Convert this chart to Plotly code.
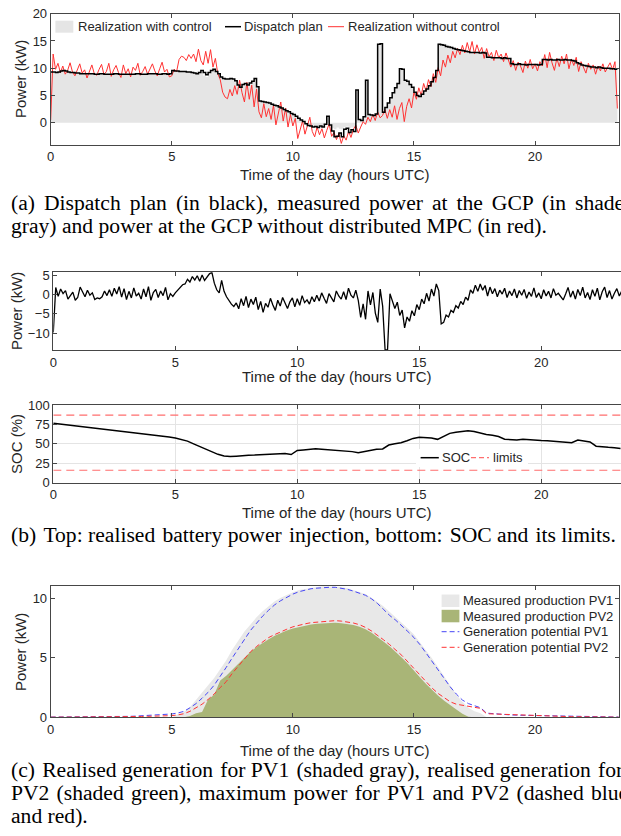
import plotly.graph_objects as go

W, H = 621, 836

# ---- (a) power at the GCP, 0.1 h samples ----
t_a = [i / 10 for i in range(235)]

without_ctrl = [
    0.5, 12.6, 9.8, 10.9, 9.2, 10.4, 8.9, 9.6, 11.0, 9.3,
    8.6, 9.9, 10.8, 9.1, 9.7, 8.2, 9.5, 10.6, 9.0, 8.7,
    9.8, 10.7, 8.8, 9.4, 10.9, 8.5, 9.7, 10.5, 9.2, 8.3,
    10.6, 9.0, 9.9, 8.4, 10.2, 9.6, 10.9, 8.7, 9.4, 10.3,
    8.9, 9.8, 10.8, 9.5, 8.6, 9.9, 11.1, 9.3, 9.8, 8.4,
    8.6, 9.8, 9.4, 11.6, 12.2, 12.0, 11.4, 12.5, 11.8, 12.6,
    11.2, 13.5, 11.4, 10.6, 13.1, 10.9, 13.4, 10.2, 11.8, 9.0,
    7.9, 5.6, 4.7, 4.4, 6.1, 4.9, 6.8, 5.2, 7.8, 5.5,
    3.8, 7.4, 4.3, 6.9, 2.9, 6.2, 2.0, 0.9, 3.5, 1.1,
    2.6, 0.6, 3.2, -0.4, 1.9, 3.8, 0.3, 2.7, -0.8, 1.5,
    -0.6, 0.8, -2.9, -1.2, 0.3, -2.1, -0.4, 1.0, -1.6, -2.6,
    -0.8, -2.2, -1.1, -2.8, -1.4, -0.2, -2.5, -1.8, -3.1, -2.0,
    -3.8, -2.4, -3.2, -1.6, -2.7, -1.2, -0.5, -1.9, -0.8, 0.2,
    -0.3, 1.0, 0.2, 1.5, 0.4, 2.0, 0.9, 1.3, 2.4, 0.8,
    2.4, 1.0, 3.1, 0.6, 2.6, 3.7, 0.2, 3.0, 4.4, 2.7,
    5.6, 4.3, 6.4, 5.0, 7.2, 5.8, 7.9, 6.6, 9.0, 7.4,
    10.1, 8.6, 11.5, 10.2, 12.4, 11.0, 13.1, 11.9, 13.6, 12.5,
    14.2, 12.8, 14.7, 13.0, 14.9, 12.6, 14.3, 12.9, 13.8, 11.8,
    13.6, 12.1, 12.9, 11.4, 13.3, 11.9, 12.6, 11.2, 12.8, 11.5,
    10.2, 11.4, 9.6, 11.1, 10.4, 9.2, 11.3, 10.0, 11.6, 9.9,
    10.8, 9.5, 11.2, 10.4, 12.5, 10.1, 12.9, 11.0, 9.6, 11.8,
    10.3, 12.2, 10.8, 12.6, 9.9, 11.7, 10.5, 12.0, 9.4, 11.2,
    10.0, 9.1, 10.9, 9.8, 10.6, 8.9, 10.4, 9.5, 10.8, 9.3,
    10.2, 11.0, 9.7, 11.2, 2.6,
]

dispatch = [
    9.3, 9.3, 9.2, 9.3, 9.5, 9.6, 9.5, 9.3, 9.2, 9.2,
    9.1, 9.1, 9.0, 9.0, 9.0, 9.0, 9.0, 9.0, 8.9, 8.9,
    9.0, 9.0, 8.9, 8.9, 8.9, 8.9, 9.0, 9.0, 8.9, 8.9,
    8.9, 8.9, 8.9, 8.9, 8.9, 9.0, 9.0, 8.9, 8.9, 8.9,
    9.0, 9.0, 9.0, 9.0, 8.9, 8.9, 9.0, 9.0, 8.9, 9.0,
    9.6, 9.5, 9.5, 9.4, 9.4, 9.4, 9.3, 9.3, 9.2, 9.1,
    9.0, 9.2, 9.6, 9.2, 8.8, 9.2, 9.6, 9.8, 9.4, 9.0,
    8.4, 8.1, 8.0, 8.0, 8.1, 8.0, 7.7, 6.9, 6.5, 7.0,
    7.2, 6.9, 7.3, 7.6, 8.1, 6.6, 4.0, 3.9, 3.8, 3.7,
    3.6, 3.4, 3.2, 3.1, 2.9, 2.7, 2.4, 2.2, 2.0, 1.7,
    1.5, 1.2, 0.8, 0.5, 0.2, -0.2, -0.5, -0.6, -0.8, -0.7,
    -0.9, -0.6, -0.8, -0.3, 1.2, -0.4, -1.5, -2.6, -2.5, -1.9,
    -2.6, -1.2, -1.0, -1.8, -1.3, -1.6, 6.0, 0.6, 0.4, 1.1,
    7.8, 1.5, 1.4, 1.3, 1.6, 14.4, 14.5, 1.9, 2.8, 3.6,
    4.6, 5.5, 6.4, 7.2, 9.9, 9.8, 7.8, 7.6, 7.0, 6.5,
    5.6, 5.0, 4.8, 5.2, 5.8, 6.2, 6.8, 7.5, 8.3, 9.6,
    14.4, 14.3, 14.2, 14.0, 13.9, 13.8, 13.6, 13.5, 13.4, 13.3,
    13.2, 13.1, 13.0, 12.9, 12.9, 12.9, 12.9, 12.8, 12.9, 12.8,
    12.0, 12.0, 11.9, 11.9, 11.9, 11.9, 11.8, 11.9, 11.8, 11.8,
    10.8, 10.7, 10.7, 10.8, 10.7, 10.7, 10.6, 10.7, 10.7, 10.7,
    10.7, 10.6, 10.7, 11.6, 11.6, 11.5, 11.6, 11.5, 11.5, 11.6,
    11.5, 11.5, 11.6, 11.5, 11.5, 11.4, 11.3, 11.0, 10.8, 10.6,
    10.5, 10.4, 10.3, 10.2, 10.2, 10.1, 10.2, 10.1, 10.0, 10.0,
    10.0, 9.9, 9.9, 9.8, 9.8,
]

with_ctrl = [
    9.2, 9.3, 9.2, 9.3, 9.5, 9.5, 9.5, 9.3, 9.2, 9.2,
    9.1, 9.1, 9.0, 9.0, 9.0, 9.0, 9.0, 9.0, 8.9, 8.9,
    9.0, 9.0, 8.9, 8.9, 8.9, 8.9, 9.0, 9.0, 8.9, 8.9,
    8.9, 8.9, 8.9, 8.9, 8.9, 9.0, 9.0, 8.9, 8.9, 8.9,
    9.0, 9.0, 9.0, 9.0, 8.9, 8.9, 9.0, 9.0, 8.9, 9.0,
    9.6, 9.5, 9.5, 9.4, 9.4, 9.4, 9.3, 9.3, 9.2, 9.1,
    9.0, 9.1, 9.3, 8.6, 8.4, 8.9, 9.6, 9.9, 9.5, 9.0,
    8.4, 8.1, 8.0, 8.0, 8.1, 8.0, 7.7, 6.9, 6.5, 7.0,
    7.2, 6.9, 7.3, 7.6, 8.1, 6.6, 4.0, 3.9, 3.8, 3.7,
    3.6, 3.4, 3.2, 3.1, 2.9, 2.7, 2.4, 2.2, 2.0, 1.7,
    1.5, 1.2, 0.8, 0.5, 0.2, -0.2, -0.5, -0.6, -0.8, -0.7,
    -0.9, -0.6, -0.8, -0.3, 1.0, -0.4, -1.0, -1.2, -0.9, -1.1,
    -1.2, -0.8, -0.7, -1.0, -0.9, -1.0, 5.8, 0.6, 0.4, 1.1,
    7.7, 1.5, 1.4, 1.3, 1.6, 14.4, 14.5, 1.9, 2.8, 3.6,
    4.6, 5.5, 6.4, 7.2, 9.9, 9.8, 7.8, 7.6, 7.0, 6.5,
    5.6, 5.0, 4.8, 5.2, 5.8, 6.2, 6.8, 7.5, 8.3, 9.6,
    14.6, 14.6, 14.5, 14.3, 14.2, 14.0, 13.8, 13.6, 13.5, 13.4,
    13.2, 13.1, 13.0, 12.9, 12.9, 12.9, 12.9, 12.8, 12.9, 12.8,
    12.0, 12.0, 11.9, 11.9, 11.9, 11.9, 11.8, 11.9, 11.8, 11.8,
    10.8, 10.7, 10.7, 10.8, 10.7, 10.7, 10.6, 10.7, 10.7, 10.7,
    10.7, 10.6, 10.7, 11.6, 11.6, 11.5, 11.6, 11.5, 11.5, 11.6,
    11.5, 11.5, 11.6, 11.5, 11.5, 11.4, 11.3, 11.0, 10.8, 10.6,
    10.5, 10.4, 10.3, 10.3, 10.2, 10.2, 10.2, 10.1, 10.1, 10.1,
    10.1, 10.1, 10.0, 10.0, 10.0,
]

# ---- (b) battery power (0.1 h) and SOC (0.25 h) ----
battery = [
    -9.8, 1.8, -0.5, 1.4, 0.2, 1.0, -1.2, -0.4, 0.6, -1.5,
    -0.8, 1.9, 0.5, -0.6, 1.1, -0.2, 0.4, -1.3, -0.9, -1.1,
    -0.6, 0.9, -0.3, 1.2, -0.5, 1.6, 0.1, 2.0, -0.7, 1.5,
    -1.3, 0.8, -0.9, 1.7, -0.4, 0.3, -1.2, 1.4, -0.6, 2.0,
    -1.5, 0.5, 1.3, -0.8, 0.9, -0.3, 1.8, -1.4, 0.2, -0.5,
    0.4, 1.1, 1.9, 2.5, 2.7, 3.9, 3.2, 4.6, 3.7, 4.8,
    3.4, 5.0, 3.6, 4.4, 5.3, 5.7, 2.9, 1.2, 0.4, 3.6,
    0.8, -0.6, -1.6, -2.5, -3.1, -2.2, -3.7, -1.1, -2.9, -0.5,
    -3.4, -1.2, -2.6, -0.7, -3.9, -1.8, -4.6, -2.3, -3.3, -1.0,
    -2.7, -4.1, -1.5, -3.0, -0.8, -2.4, -3.6, -1.9, -0.9, -3.2,
    -1.1, -2.8, -0.3, -2.1, -1.4, -2.5, -0.6, -1.9, -0.2, -1.7,
    0.4, -1.0, -2.3, 0.2, -0.8, -1.9, 0.9, -0.4, -1.2, 0.7,
    -1.3, 1.6, -0.2, -0.9, 1.1, -1.5, -5.9, -2.4, -6.4, 0.9,
    -2.7, 0.5, -4.8, -7.2, 1.4, -3.0, -14.3, -14.3, 0.2, -1.5,
    -3.6, -2.0, -5.4, -4.0, -8.6, -5.8, -6.9, -4.2, -5.5, -2.6,
    -3.9, -1.2, -2.4, 0.3, -1.7, 1.4, -0.4, 2.7, 1.0, -7.6,
    -7.2, -5.3, -5.8, -4.1, -4.6, -2.9, -3.5, -1.8, -2.6, -0.7,
    -1.5, 1.2, 0.3, 2.4, 0.8, 2.7, 1.1, 2.3, -0.4, 1.9,
    0.2, 1.5, -0.6, 1.1, 0.1, 1.6, -0.8, 0.9, -0.3, 1.4,
    -0.9, 1.0, -0.2, 1.3, -1.0, 0.6, -0.5, 1.7, -0.8, 0.4,
    -1.1, 1.2, -0.4, 0.8, -0.9, 1.5, -0.2, 0.3, -0.6, -1.4,
    0.1, 1.8, -0.7, 0.9, -1.2, 1.3, -0.3, 1.9, -0.9, 0.5,
    -1.3, 1.2, -0.5, 1.6, -1.4, 0.7, 1.9, -0.8, 1.0, -1.2,
    0.3, 1.5, -0.4, 0.9, 0.2,
]

t_soc = [i / 4 for i in range(94)]
soc = [
    76.4, 75.5, 74.5, 73.5, 72.5, 71.6, 70.8, 70.0,
    69.2, 68.5, 67.6, 66.8, 65.8, 64.8, 63.8, 63.0,
    62.2, 61.2, 60.0, 58.8, 57.5, 55.8, 53.5, 50.0,
    46.5, 43.0, 39.5, 36.5, 34.5, 33.8, 34.2, 35.0,
    35.3, 35.5, 35.8, 36.3, 36.8, 37.2, 37.6, 36.2,
    41.5, 42.2, 43.0, 43.6, 43.2, 42.5, 42.0, 41.6,
    41.0, 40.0, 38.5, 40.0, 41.0, 43.0, 43.5, 48.5,
    50.0, 51.5, 54.0, 57.0, 58.5, 58.2, 57.5, 55.8,
    60.0, 63.5, 65.0, 66.0, 67.0, 66.0, 63.5, 62.0,
    61.0, 59.5, 56.0, 55.2, 55.0, 55.8, 55.0, 54.6,
    54.3, 54.0, 53.6, 53.0, 52.5, 51.5, 55.0, 53.5,
    52.5, 47.0, 45.8, 45.5, 45.0, 44.0,
]
soc_limits = [87, 16]

# ---- (c) PV generation, 0.25 h samples ----
t_pv = [i / 4 for i in range(95)]
pv1_meas = [
    0, 0, 0, 0, 0, 0, 0, 0, 0, 0, 0, 0, 0, 0, 0, 0, 0, 0, 0, 0,
    0.0, 0.25, 0.45, 0.85, 1.5, 2.1, 2.7, 3.3, 4.0, 4.8, 5.7, 6.5,
    7.2, 7.8, 8.4, 8.9, 9.35, 9.75, 10.05, 10.3, 10.5, 10.7, 10.8, 10.9,
    10.95, 11.0, 11.0, 11.0, 10.95, 10.85, 10.7, 10.55, 10.35, 10.05, 9.7, 9.3,
    8.85, 8.4, 7.95, 7.45, 6.95, 6.3, 5.6, 4.95, 4.2, 3.4, 2.6, 1.9,
    1.3, 0.8, 0.5, 0.35, 0.0, 0, 0, 0, 0, 0, 0, 0, 0, 0, 0, 0,
    0, 0, 0, 0, 0, 0, 0, 0, 0, 0, 0,
]
pv2_meas = [
    0, 0, 0, 0, 0, 0, 0, 0, 0, 0, 0, 0, 0, 0, 0, 0, 0, 0, 0, 0,
    0, 0, 0, 0.1, 0.35, 0.45, 1.5, 1.9, 3.1, 3.5, 4.0, 4.5,
    5.0, 5.5, 5.9, 6.25, 6.55, 6.85, 7.1, 7.3, 7.45, 7.58, 7.7, 7.8,
    7.85, 7.9, 7.93, 7.95, 7.9, 7.85, 7.75, 7.6, 7.4, 7.1, 6.75, 6.35,
    5.95, 5.5, 5.0, 4.5, 3.9, 3.35, 2.8, 2.3, 1.8, 1.4, 1.0, 0.65,
    0.3, 0.05, 0, 0, 0, 0, 0, 0, 0, 0, 0, 0, 0, 0, 0, 0,
    0, 0, 0, 0, 0, 0, 0, 0, 0, 0, 0,
]
pv1_pot = [
    0.02, 0.02, 0.03, 0.02, 0.03, 0.03, 0.04, 0.03, 0.05, 0.04, 0.06, 0.07,
    0.08, 0.08, 0.10, 0.12, 0.14, 0.16, 0.20, 0.24, 0.28, 0.36, 0.5, 0.8,
    1.15, 1.6, 2.1, 2.7, 3.4, 4.2, 5.0, 5.8, 6.6, 7.3, 7.9, 8.5,
    9.0, 9.45, 9.8, 10.1, 10.35, 10.55, 10.7, 10.8, 10.85, 10.9, 10.92, 10.92,
    10.85, 10.75, 10.6, 10.45, 10.25, 9.95, 9.55, 9.05, 8.55, 8.15, 7.7, 7.2,
    6.7, 6.1, 5.4, 4.7, 3.95, 3.2, 2.55, 1.95, 1.45, 1.15, 0.95, 0.8,
    0.35, 0.3, 0.28, 0.22, 0.2, 0.18, 0.17, 0.15, 0.14, 0.12, 0.1, 0.09,
    0.08, 0.07, 0.06, 0.05, 0.05, 0.04, 0.04, 0.03, 0.03, 0.02, 0.02,
]
pv2_pot = [
    0.01, 0.01, 0.02, 0.01, 0.02, 0.02, 0.03, 0.02, 0.03, 0.03, 0.04, 0.04,
    0.05, 0.05, 0.06, 0.07, 0.08, 0.09, 0.1, 0.12, 0.14, 0.2, 0.3, 0.5,
    0.8, 1.1, 1.5, 1.95, 2.5, 3.0, 3.7, 4.3, 4.95, 5.5, 5.95, 6.35,
    6.7, 6.95, 7.2, 7.4, 7.6, 7.75, 7.85, 7.95, 8.0, 8.08, 8.12, 8.12,
    8.08, 8.02, 7.92, 7.78, 7.55, 7.25, 6.9, 6.5, 6.1, 5.65, 5.2, 4.65,
    4.1, 3.5, 2.95, 2.45, 2.0, 1.65, 1.3, 1.1, 1.0, 0.95, 0.85, 0.75,
    0.3, 0.28, 0.25, 0.22, 0.2, 0.18, 0.15, 0.13, 0.12, 0.1, 0.09, 0.08,
    0.07, 0.06, 0.05, 0.05, 0.04, 0.03, 0.03, 0.02, 0.02, 0.01, 0.01,
]

hour_ticks = [0, 5, 10, 15, 20]

SANS = "Liberation Sans"
SERIF = "Liberation Serif"
AXC = "rgb(70,70,70)"
TXT = "rgb(38,38,38)"
GRAY = "rgb(229,229,229)"
GREEN = "rgb(169,181,119)"
RED = "rgb(255,50,50)"
BLUE = "rgb(70,70,245)"


def fx(p):
    return p / W


def fy(p):
    return 1 - p / H


fig = go.Figure()

# (a)
fig.add_trace(go.Scatter(x=t_a, y=with_ctrl, mode="lines", fill="tozeroy", fillcolor=GRAY,
                         line=dict(width=0, shape="hv"), xaxis="x", yaxis="y"))
fig.add_trace(go.Scatter(x=t_a, y=without_ctrl, mode="lines",
                         line=dict(color=RED, width=1), xaxis="x", yaxis="y"))
fig.add_trace(go.Scatter(x=t_a, y=dispatch, mode="lines",
                         line=dict(color="black", width=1.5, shape="hv"), xaxis="x", yaxis="y"))
# (b) top
fig.add_trace(go.Scatter(x=t_a, y=battery, mode="lines",
                         line=dict(color="black", width=1.3), xaxis="x2", yaxis="y2"))
# (b) bottom
for lim in soc_limits:
    fig.add_trace(go.Scatter(x=t_soc, y=[lim] * len(t_soc), mode="lines",
                             line=dict(color="rgb(255,110,110)", width=1.2, dash="8px,5px"),
                             xaxis="x3", yaxis="y3"))
fig.add_trace(go.Scatter(x=t_soc, y=soc, mode="lines",
                         line=dict(color="black", width=1.5), xaxis="x3", yaxis="y3"))
# (c)
fig.add_trace(go.Scatter(x=t_pv, y=pv1_meas, mode="lines", fill="tozeroy", fillcolor="rgb(232,232,232)",
                         line=dict(width=0), xaxis="x4", yaxis="y4"))
fig.add_trace(go.Scatter(x=t_pv, y=pv2_meas, mode="lines", fill="tozeroy", fillcolor=GREEN,
                         line=dict(width=0), xaxis="x4", yaxis="y4"))
fig.add_trace(go.Scatter(x=t_pv, y=pv1_pot, mode="lines",
                         line=dict(color=BLUE, width=1, dash="5px,3px"), xaxis="x4", yaxis="y4"))
fig.add_trace(go.Scatter(x=t_pv, y=pv2_pot, mode="lines",
                         line=dict(color=RED, width=1, dash="5px,3px"), xaxis="x4", yaxis="y4"))

base = dict(showline=True, linecolor=AXC, linewidth=1, ticks="inside", ticklen=4, tickcolor=AXC,
            tickfont=dict(family=SANS, size=13, color=TXT), zeroline=False, showgrid=False,
            fixedrange=True, automargin=False)

fig.update_layout(
    width=W, height=H, margin=dict(l=0, r=0, t=0, b=0, autoexpand=False),
    paper_bgcolor="white", plot_bgcolor="white", showlegend=False,
    xaxis=dict(base, domain=[fx(50.7), fx(618.6)], range=[0, 23.45], tickvals=hour_ticks,
               mirror="ticks", anchor="y"),
    yaxis=dict(base, domain=[fy(144.5), fy(13.7)], range=[-4, 20], tickvals=[0, 5, 10, 15, 20],
               mirror="ticks", anchor="x"),
    xaxis2=dict(base, domain=[fx(53.3), 1], range=[0, 23.27], tickvals=hour_ticks,
                mirror="ticks", anchor="y2"),
    yaxis2=dict(base, domain=[fy(350), fy(272.3)], range=[-14.3, 5.7], tickvals=[-10, -5, 0, 5],
                anchor="x2"),
    xaxis3=dict(base, domain=[fx(53.3), 1], range=[0, 23.27], tickvals=hour_ticks,
                mirror="ticks", anchor="y3", showgrid=True, gridcolor="rgb(228,228,228)"),
    yaxis3=dict(base, domain=[fy(482.7), fy(405)], range=[0, 100], tickvals=[0, 25, 50, 75, 100],
                anchor="x3", showgrid=True, gridcolor="rgb(228,228,228)"),
    xaxis4=dict(base, domain=[fx(50.7), fx(618.6)], range=[0, 23.45], tickvals=hour_ticks,
                mirror="ticks", anchor="y4"),
    yaxis4=dict(base, domain=[fy(717.3), fy(586)], range=[0, 11.03], tickvals=[0, 5, 10],
                mirror="ticks", anchor="x4"),
)

ann = []
shapes = []


def text(x, y, s, size=13, family=SANS, anchor="left", angle=0, color=TXT):
    ann.append(dict(x=fx(x), y=fy(y), xref="paper", yref="paper", text=s, showarrow=False,
                    xanchor=anchor, yanchor="middle", textangle=angle,
                    font=dict(family=family, size=size, color=color)))


def box(x0, x1, y0, y1, color):
    shapes.append(dict(type="rect", xref="paper", yref="paper", x0=fx(x0), x1=fx(x1),
                       y0=fy(y1), y1=fy(y0), fillcolor=color, line=dict(width=0), layer="above"))


def seg(x0, x1, y, color, width=1.5, dash="solid"):
    shapes.append(dict(type="line", xref="paper", yref="paper", x0=fx(x0), x1=fx(x1),
                       y0=fy(y), y1=fy(y), line=dict(color=color, width=width, dash=dash),
                       layer="above"))


def spread(s, pad, every=1):
    # widen word gaps a little, like the justified caption lines
    words = s.split(" ")
    out = words[0]
    for i, w in enumerate(words[1:]):
        out += " " + (pad if i % every == 0 else "") + w
    return out


# axis titles
xt = "Time of the day (hours UTC)"
text(334.6, 175, xt, 15, anchor="center")
text(337, 376, xt, 15, anchor="center")
text(337, 512, xt, 15, anchor="center")
text(334.6, 750, xt, 15, anchor="center")
text(20, 79, "Power (kW)", 15, anchor="center", angle=-90)
text(16, 311, "Power (kW)", 15, anchor="center", angle=-90)
text(16, 444, "SOC (%)", 15, anchor="center", angle=-90)
text(20, 652, "Power (kW)", 15, anchor="center", angle=-90)

# legend (a)
box(55.4, 73.3, 20.7, 32.7, GRAY)
text(76, 26.7, "Realization with control")
seg(225, 241, 26.7, "black", 1.5)
text(242, 26.7, "Dispatch plan")
seg(328, 344, 26.7, RED, 1)
text(346, 26.7, "Realization without control")

# legend (b) SOC
box(416, 528, 449, 467, "white")
seg(420.6, 438.8, 457.7, "black", 1.5)
text(440, 457.7, "SOC")
seg(471, 489, 457.7, "rgb(255,110,110)", 1.2, "5px,3px")
text(491, 457.7, "limits")

# legend (c)
box(441.6, 459.4, 594.5, 607, "rgb(232,232,232)")
text(461.4, 600.7, "Measured production PV1")
box(441.6, 459.4, 609.8, 622.3, GREEN)
text(461.4, 616, "Measured production PV2")
seg(441.6, 459.4, 631.7, BLUE, 1, "5px,3px")
text(461.4, 631.7, "Generation potential PV1")
seg(441.6, 459.4, 647.3, RED, 1, "5px,3px")
text(461.4, 647.3, "Generation potential PV2")

# captions
cap = 21.6
HAIR = "\u200a"
SIXTH = "\u2006"
text(8.7, 203, spread("(a) Dispatch plan (in black), measured power at the GCP (in shaded", SIXTH),
     cap, SERIF, color="black")
text(8.7, 226, "gray) and power at the GCP without distributed MPC (in red).", cap, SERIF, color="black")
text(8.7, 535, spread("(b) Top: realised battery power injection, bottom: SOC and its limits.", HAIR, 2),
     cap, SERIF, color="black")
text(8.7, 770, spread("(c) Realised generation for PV1 (shaded gray), realised generation for", HAIR, 2),
     cap, SERIF, color="black")
text(8.7, 793, spread("PV2 (shaded green), maximum power for PV1 and PV2 (dashed blue", HAIR),
     cap, SERIF, color="black")
text(8.7, 816, "and red).", cap, SERIF, color="black")

fig.update_layout(annotations=ann, shapes=shapes)
fig.write_html("out.html", config={"displayModeBar": False},
               post_script="document.body.style.margin='0px';")
